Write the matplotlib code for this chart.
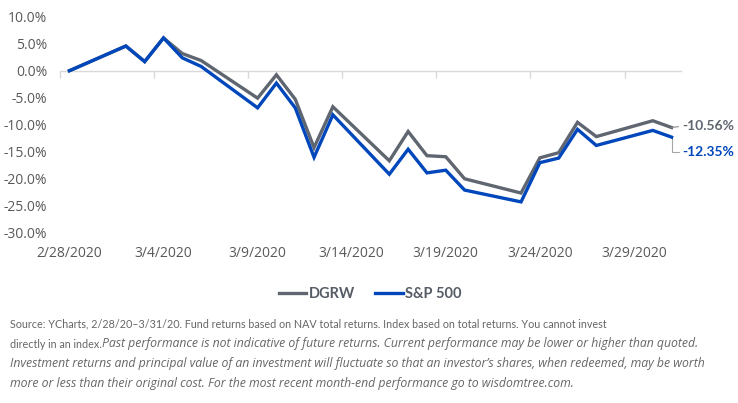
import matplotlib
matplotlib.use("Agg")
import matplotlib.pyplot as plt
import matplotlib.dates as mdates
import matplotlib.ticker as mticker
import pandas as pd
import numpy as np

# ---- data ----
dates = ["2020-02-28", "2020-03-02", "2020-03-03", "2020-03-04", "2020-03-05",
         "2020-03-06", "2020-03-09", "2020-03-10", "2020-03-11", "2020-03-12",
         "2020-03-13", "2020-03-16", "2020-03-17", "2020-03-18", "2020-03-19",
         "2020-03-20", "2020-03-23", "2020-03-24", "2020-03-25", "2020-03-26",
         "2020-03-27", "2020-03-30", "2020-03-31"]
dgrw = [0.0, 4.6, 1.7, 6.1, 3.2, 1.9, -5.1, -0.75, -5.3, -14.3, -6.7,
        -16.75, -11.3, -15.8, -16.0, -20.1, -22.75, -16.2, -15.25, -9.6,
        -12.25, -9.3, -10.56]
sp500 = [0.0, 4.6, 1.7, 6.1, 2.4, 0.8, -6.9, -2.3, -6.9, -16.1, -8.2,
         -19.25, -14.6, -19.0, -18.5, -22.2, -24.4, -17.1, -16.25, -10.9,
         -13.9, -11.1, -12.35]
series_names = ["DGRW", "S&P 500"]
end_labels = ["-10.56%", "-12.35%"]
tick_dates = ["2020-02-28", "2020-03-04", "2020-03-09", "2020-03-14",
              "2020-03-19", "2020-03-24", "2020-03-29"]

GRAY = "#5f6670"
BLUE = "#0047bb"
TXT = "#595959"
FOOT = "#666666"

x = mdates.date2num(pd.to_datetime(dates).to_pydatetime())
xt = mdates.date2num(pd.to_datetime(tick_dates).to_pydatetime())

fig = plt.figure(figsize=(7.38, 4.03), dpi=100)
ax = fig.add_axes([60/738, 1-232/403, 621/738, 215/403])

ax.plot(x, dgrw, color=GRAY, lw=2.4, solid_joinstyle="miter", label=series_names[0], zorder=3)
ax.plot(x, sp500, color=BLUE, lw=2.4, solid_joinstyle="miter", label=series_names[1], zorder=4)

ax.set_xlim(x[0] - 0.5, x[0] + 32.5)
ax.set_ylim(-30, 10)
ax.yaxis.set_major_locator(mticker.MultipleLocator(5))
ax.yaxis.set_major_formatter(mticker.FuncFormatter(lambda v, p: f"{v:.1f}%"))
ax.set_xticks(xt)
ax.set_xticklabels([pd.Timestamp(d).strftime("%-m/%-d/%Y") for d in tick_dates])
for s in ax.spines.values():
    s.set_visible(False)
ax.tick_params(axis="both", length=0, labelcolor=TXT, labelsize=10)
ax.tick_params(axis="y", pad=9)
ax.tick_params(axis="x", pad=10)
for lab in ax.get_xticklabels() + ax.get_yticklabels():
    lab.set_fontfamily("Open Sans")

# zero line with tick marks (twin axes sharing y)
ax2 = ax.twiny()
ax2.set_xlim(ax.get_xlim())
for side in ("top", "left", "right"):
    ax2.spines[side].set_visible(False)
ax2.spines["bottom"].set_position(("data", 0))
ax2.spines["bottom"].set_color("#d9d9d9")
ax2.spines["bottom"].set_linewidth(1)
ax2.xaxis.set_ticks_position("bottom")
ax2.set_xticks(xt - 0.5)
ax2.tick_params(axis="x", direction="out", length=5, width=1, color="#d9d9d9",
                labelbottom=False, labeltop=False)
ax2.set_zorder(0)
ax.set_zorder(1)
ax.patch.set_visible(False)

# end labels
ax.annotate(end_labels[0], xy=(x[-1], dgrw[-1]), xytext=(8, 1), textcoords="offset points",
            ha="left", va="center", color=GRAY, fontsize=10, fontweight="bold", family="Lato",
            annotation_clip=False,
            arrowprops=dict(arrowstyle="-", color="#8c8c8c", lw=0.8, shrinkA=1, shrinkB=0,
                            relpos=(0, 0.5)))
ax.annotate(end_labels[1], xy=(x[-1], sp500[-1]), xytext=(8, -10.5), textcoords="offset points",
            ha="left", va="center", color=BLUE, fontsize=10, fontweight="bold", family="Lato",
            annotation_clip=False,
            arrowprops=dict(arrowstyle="-", color="#a6a6a6", lw=0.8, shrinkA=1, shrinkB=0,
                            relpos=(0, 0.5),
                            connectionstyle="angle,angleA=0,angleB=90,rad=0"))

leg = fig.legend(loc="center", bbox_to_anchor=(370/738, 1-294/403), ncol=2, frameon=False,
                 handlelength=1.9, handletextpad=0.15, columnspacing=1.4,
                 prop=dict(family="Lato", weight="bold", size=10.5))
for t in leg.get_texts():
    t.set_color("#555c66")

# footnote
line1 = ("Source: YCharts, 2/28/20\u20133/31/20. Fund returns based on NAV total returns. "
         "Index based on total returns. You cannot invest")
line2a = "directly in an index."
line2b = "Past performance is not indicative of future returns. Current performance may be lower or higher than quoted."
line3 = ("Investment returns and principal value of an investment will fluctuate so that an investor\u2019s shares, "
         "when redeemed, may be worth")
line4 = "more or less than their original cost. For the most recent month-end performance go to wisdomtree.com."

ys = [1-324/403, 1-344/403, 1-364/403, 1-384/403]
x0 = 10/738
renderer = fig.canvas.get_renderer()

def fitted(text, family, style, target_px, base=8.0):
    t = fig.text(0, 0, text, fontsize=base, family=family, style=style)
    w = t.get_window_extent(renderer=renderer).width
    t.remove()
    return base * target_px / w

fs_reg = fitted(line1, "Lato", "normal", 600)
fs_it = fitted(line3, "Open Sans", "italic", 695)
kw_r = dict(fontsize=fs_reg, family="Lato", color=FOOT, va="center")
kw_i = dict(fontsize=fs_it, family="Open Sans", style="italic", color=FOOT, va="center")

fig.text(x0, ys[0], line1, **kw_r)
t2 = fig.text(x0, ys[1], line2a, **kw_r)
bb = t2.get_window_extent(renderer=renderer)
fig.text(bb.x1 / fig.bbox.width + 0.001, ys[1], line2b, **kw_i)
fig.text(x0, ys[2], line3, **kw_i)
fig.text(x0, ys[3], line4, **kw_i)

fig.savefig("out.png", dpi=100)
